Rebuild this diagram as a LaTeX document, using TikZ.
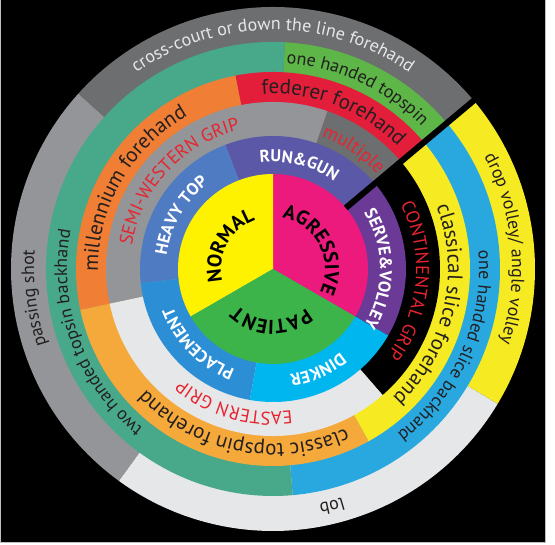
\documentclass[tikz,border=0pt]{standalone}
\usepackage{fontspec}
\setmainfont{PT Sans}
\usetikzlibrary{decorations.text}
\definecolor{pyellow}{HTML}{FFF200}
\definecolor{pmagenta}{HTML}{EC1A7C}
\definecolor{pgreen}{HTML}{3CB44A}
\definecolor{heavy}{HTML}{4F7BC2}
\definecolor{rungun}{HTML}{5B58A8}
\definecolor{serve}{HTML}{6B3A97}
\definecolor{dinker}{HTML}{00B6EF}
\definecolor{placement}{HTML}{2C8FD6}
\definecolor{gmid}{HTML}{939598}
\definecolor{gdark}{HTML}{6D6E70}
\definecolor{glight}{HTML}{E6E7E8}
\definecolor{orangea}{HTML}{F07E34}
\definecolor{redf}{HTML}{E31E3A}
\definecolor{yellowr}{HTML}{F6EA22}
\definecolor{orangeb}{HTML}{F5A93B}
\definecolor{teal}{HTML}{48A98A}
\definecolor{greent}{HTML}{5DB647}
\definecolor{blues}{HTML}{29A8E0}
\definecolor{griptext}{HTML}{E7242F}
\definecolor{ink}{HTML}{231F20}
\newcommand{\wdg}[4]{\fill[#4] (0,0) -- (#1:#3) arc[start angle=#1, end angle=#2, radius=#3] -- cycle;}
\newcommand{\arclabel}[5]{\path[decorate, decoration={text along path, text align=center, text color=#5, text={|#3|#4}}] ({#1+80}:#2) arc[start angle={#1+80}, end angle={#1-80}, radius=#2];}
\begin{document}
\begin{tikzpicture}[x=1pt,y=1pt]
\useasboundingbox (0,0) rectangle (555,545);
\fill[white] (0,0) rectangle (555,545);
\fill[black] (0,2) rectangle (545.5,545);
\draw[gray!50, line width=1pt] (0.5,545) -- (0.5,2) -- (545.5,2) -- (545.5,545);
\begin{scope}[shift={(273,276)}]
% outer ring
\wdg{-31}{40}{262}{yellowr}
\wdg{40}{138}{262}{gdark}
\wdg{138}{234}{262}{gmid}
\wdg{234}{329}{262}{glight}
% ring 5
\wdg{-85}{40}{227}{blues}
\wdg{40}{87}{227}{greent}
\wdg{87}{275}{227}{teal}
% ring 4
\wdg{-61}{40}{197}{yellowr}
\wdg{40}{101}{197}{redf}
\wdg{101}{192}{197}{orangea}
\wdg{192}{299}{197}{orangeb}
% ring 3
\wdg{-49}{40}{167}{black}
\wdg{40}{71}{167}{gdark}
\wdg{71}{192}{167}{gmid}
\wdg{192}{311}{167}{glight}
% ring 2
\wdg{-30}{40}{133}{serve}
\wdg{40}{111}{133}{rungun}
\wdg{111}{186}{133}{heavy}
\wdg{186}{260}{133}{placement}
\wdg{260}{330}{133}{dinker}
% pie
\wdg{-30}{90}{95}{pmagenta}
\wdg{90}{210}{95}{pyellow}
\wdg{210}{330}{95}{pgreen}
% separator
\draw[black, line width=6pt] (40:95) -- (40:266);
% pie labels
\arclabel{152}{52}{\fontsize{20}{20}\selectfont\bfseries}{NORMAL}{black}
\arclabel{27}{52}{\fontsize{20}{20}\selectfont\bfseries}{AGRESSIVE}{black}
\arclabel{268}{51}{\fontsize{20}{20}\selectfont\bfseries}{PATIENT}{black}
% ring 2 labels
\arclabel{150}{107}{\fontsize{17}{17}\selectfont\bfseries}{HEAVY TOP}{white}
\arclabel{76}{107}{\fontsize{17}{17}\selectfont\bfseries}{RUN{\&}GUN}{white}
\arclabel{0}{107}{\fontsize{17}{17}\selectfont\bfseries}{SERVE{\&}VOLLEY}{white}
\arclabel{-66}{107}{\fontsize{17}{17}\selectfont\bfseries}{DINKER}{white}
\arclabel{225}{107}{\fontsize{17}{17}\selectfont\bfseries}{PLACEMENT}{white}
% ring 3 labels
\arclabel{137}{143}{\fontsize{18.5}{18.5}\selectfont}{SEMI-WESTERN GRIP}{griptext}
\arclabel{-5}{143}{\fontsize{18.5}{18.5}\selectfont}{CONTINENTAL GRIP}{griptext}
\arclabel{254}{143}{\fontsize{18.5}{18.5}\selectfont}{EASTERN GRIP}{griptext}
\arclabel{56}{141}{\fontsize{19}{19}\selectfont}{multiple}{griptext}
% ring 4 labels
\arclabel{150}{175}{\fontsize{21}{21}\selectfont}{millennium forehand}{ink}
\arclabel{69}{175}{\fontsize{21}{21}\selectfont}{federer forehand}{ink}
\arclabel{-13}{175}{\fontsize{21}{21}\selectfont}{classical slice forehand}{ink}
\arclabel{259}{175}{\fontsize{21}{21}\selectfont}{classic topspin forehand}{ink}
% ring 5 labels
\arclabel{65}{206}{\fontsize{18}{18}\selectfont}{one handed topspin}{ink}
\arclabel{200}{206}{\fontsize{18}{18}\selectfont}{two handed topsin backhand}{ink}
\arclabel{-24}{206}{\fontsize{18}{18}\selectfont}{one handed slice backhand}{ink}
% outer labels
\arclabel{90}{239}{\fontsize{18}{18}\selectfont}{cross-court or down the line forehand}{glight}
\arclabel{187}{239}{\fontsize{18}{18}\selectfont}{passing shot}{ink}
\arclabel{-76}{239}{\fontsize{18}{18}\selectfont}{lob}{ink}
\arclabel{5}{239}{\fontsize{18}{18}\selectfont}{drop volley/ angle volley}{ink}
\end{scope}
\end{tikzpicture}
\end{document}
